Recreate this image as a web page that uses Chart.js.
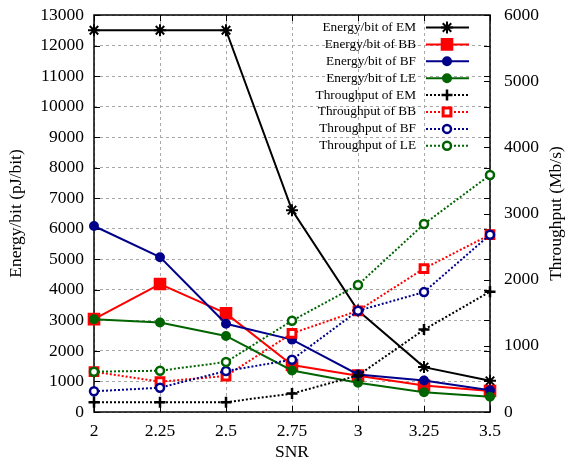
<!DOCTYPE html>
<html>
<head>
<meta charset="utf-8">
<script src="https://cdn.jsdelivr.net/npm/chart.js@4.4.1/dist/chart.umd.min.js"></script>
<style>
html,body{margin:0;padding:0;background:#fff;}
canvas{display:block;}
</style>
</head>
<body>
<canvas id="c" width="576" height="465"></canvas>
<script>
// ---- data ----
const snr = ['2', '2.25', '2.5', '2.75', '3', '3.25', '3.5'];
const energyEM = [12500, 12500, 12500, 6610, 3320, 1470, 1020];
const energyBB = [3040, 4190, 3230, 1540, 1190, 870, 690];
const energyBF = [6090, 5070, 2890, 2370, 1230, 1030, 710];
const energyLE = [3040, 2930, 2490, 1360, 960, 650, 500];
const thrEM = [148, 148, 148, 278, 552, 1245, 1818];
const thrBB = [609, 458, 544, 1189, 1530, 2168, 2680];
const thrBF = [313, 367, 620, 790, 1530, 1812, 2680];
const thrLE = [609, 624, 756, 1380, 1920, 2840, 3582];
const leftTicks = [0, 13000, 1000];
const rightTicks = [0, 6000, 1000];
const xTitle = 'SNR';
const leftTitle = 'Energy/bit (pJ/bit)';
const rightTitle = 'Throughput (Mb/s)';

const SERIF = "'Liberation Serif','DejaVu Serif','Times New Roman',serif";
const RED = '#ff0000', BLUE = '#00008b', GREEN = '#006400', BLACK = '#000000';
const DOT = [2, 2];
const FS = 17.5;

function energySet(label, data, color, style, r) {
  return {label, data, yAxisID: 'y', borderColor: color, backgroundColor: color,
    borderWidth: 2, pointStyle: style, pointRadius: r, pointBorderWidth: 2,
    pointBackgroundColor: color, pointBorderColor: color, tension: 0, clip: false};
}
function thrSet(label, data, color, style, r, bw) {
  return {label, data, yAxisID: 'y1', borderColor: color, backgroundColor: color,
    borderWidth: 2, borderDash: DOT, pointStyle: style, pointRadius: r, pointBorderWidth: bw,
    pointBackgroundColor: '#ffffff', pointBorderColor: color, tension: 0, clip: false};
}

const datasets = [
  energySet('Energy/bit of EM', energyEM, BLACK, 'star', 6),
  energySet('Energy/bit of BB', energyBB, RED, 'rect', 7.5),
  energySet('Energy/bit of BF', energyBF, BLUE, 'circle', 4),
  energySet('Energy/bit of LE', energyLE, GREEN, 'circle', 4),
  thrSet('Throughput of EM', thrEM, BLACK, 'cross', 5.5, 2.5),
  thrSet('Throughput of BB', thrBB, RED, 'rect', 5.5, 3),
  thrSet('Throughput of BF', thrBF, BLUE, 'circle', 4, 2.5),
  thrSet('Throughput of LE', thrLE, GREEN, 'circle', 4, 2.5)
];
// gnuplot draws later series on top
datasets.forEach((d, i) => { d.order = datasets.length - i; });

function drawMarker(ctx, d, x, y) {
  ctx.save();
  ctx.setLineDash([]);
  ctx.fillStyle = d.pointBackgroundColor;
  ctx.strokeStyle = d.pointBorderColor;
  ctx.lineWidth = d.pointBorderWidth;
  if (Chart.helpers && Chart.helpers.drawPoint) {
    Chart.helpers.drawPoint(ctx, {pointStyle: d.pointStyle, radius: d.pointRadius,
      borderWidth: d.pointBorderWidth, rotation: 0}, x, y);
  }
  ctx.restore();
}

const framePlugin = {
  id: 'frame',
  beforeDatasetsDraw(chart) {
    const {ctx, chartArea: a, scales} = chart;
    ctx.save();
    ctx.setLineDash([]);
    ctx.strokeStyle = '#000';
    ctx.lineWidth = 1.5;
    ctx.strokeRect(a.left, a.top, a.right - a.left, a.bottom - a.top);
    ctx.lineWidth = 1;
    const tl = 6;
    ctx.beginPath();
    scales.y.ticks.forEach(t => {
      const p = Math.round(scales.y.getPixelForValue(t.value)) + 0.5;
      ctx.moveTo(a.left, p); ctx.lineTo(a.left + tl, p);
      ctx.moveTo(a.right, p); ctx.lineTo(a.right - tl, p);
    });
    scales.y1.ticks.forEach(t => {
      const p = Math.round(scales.y1.getPixelForValue(t.value)) + 0.5;
      ctx.moveTo(a.right, p); ctx.lineTo(a.right - tl, p);
    });
    scales.x.ticks.forEach((t, i) => {
      const p = Math.round(scales.x.getPixelForTick(i)) + 0.5;
      ctx.moveTo(p, a.bottom); ctx.lineTo(p, a.bottom - tl);
      ctx.moveTo(p, a.top); ctx.lineTo(p, a.top + tl);
    });
    ctx.stroke();
    // right axis title, reading bottom-to-top as in the reference
    ctx.fillStyle = '#000';
    ctx.font = FS + 'px ' + SERIF;
    ctx.textAlign = 'center';
    ctx.textBaseline = 'middle';
    ctx.translate(556, (a.top + a.bottom) / 2);
    ctx.rotate(-Math.PI / 2);
    ctx.fillText(rightTitle, 0, 0);
    ctx.restore();
  }
};

const legendPlugin = {
  id: 'gpLegend',
  afterDraw(chart) {
    const ctx = chart.ctx;
    ctx.save();
    ctx.font = '13.3px ' + SERIF;
    ctx.textAlign = 'right';
    ctx.textBaseline = 'middle';
    chart.data.datasets.forEach((d, i) => {
      const y = 27.5 + i * 16.9;
      ctx.fillStyle = '#000';
      ctx.fillText(d.label, 416, y);
      ctx.save();
      ctx.strokeStyle = d.borderColor;
      ctx.lineWidth = d.borderWidth;
      ctx.setLineDash(d.borderDash || []);
      ctx.beginPath();
      ctx.moveTo(426, y); ctx.lineTo(469, y);
      ctx.stroke();
      ctx.restore();
      drawMarker(ctx, d, 447, y);
    });
    ctx.restore();
  }
};

const tickFont = {family: SERIF, size: FS};
const plain = v => String(v);

new Chart(document.getElementById('c'), {
  type: 'line',
  data: {labels: snr, datasets},
  options: {
    responsive: false,
    devicePixelRatio: 1,
    animation: false,
    events: [],
    layout: {padding: {top: 15, left: 0, right: 0, bottom: 0}},
    plugins: {legend: {display: false}, tooltip: {enabled: false}},
    scales: {
      x: {
        type: 'category',
        offset: false,
        position: 'bottom',
        afterFit(s) { s.height = 53; s.paddingLeft = 0; s.paddingRight = 0; },
        grid: {color: '#a8a8a8', lineWidth: 1, drawTicks: false},
        border: {display: false, dash: [3, 3]},
        ticks: {color: '#000', font: tickFont, padding: 9, maxRotation: 0, autoSkip: false},
        title: {display: true, text: xTitle, color: '#000', font: tickFont, padding: {top: 0, bottom: 2}}
      },
      y: {
        type: 'linear',
        position: 'left',
        min: leftTicks[0], max: leftTicks[1],
        afterFit(s) { s.width = 94; s.paddingTop = 0; s.paddingBottom = 0; },
        grid: {color: '#a8a8a8', lineWidth: 1, drawTicks: false},
        border: {display: false, dash: [3, 3]},
        ticks: {stepSize: leftTicks[2], color: '#000', font: tickFont, padding: 10, callback: plain},
        title: {display: true, text: leftTitle, color: '#000', font: tickFont, padding: {top: 6, bottom: 0}}
      },
      y1: {
        type: 'linear',
        position: 'right',
        min: rightTicks[0], max: rightTicks[1],
        afterFit(s) { s.width = 86; s.paddingTop = 0; s.paddingBottom = 0; },
        grid: {display: false, drawTicks: false},
        border: {display: false},
        ticks: {stepSize: rightTicks[2], color: '#000', font: tickFont, padding: 14, callback: plain}
      }
    }
  },
  plugins: [framePlugin, legendPlugin]
});
</script>
</body>
</html>
